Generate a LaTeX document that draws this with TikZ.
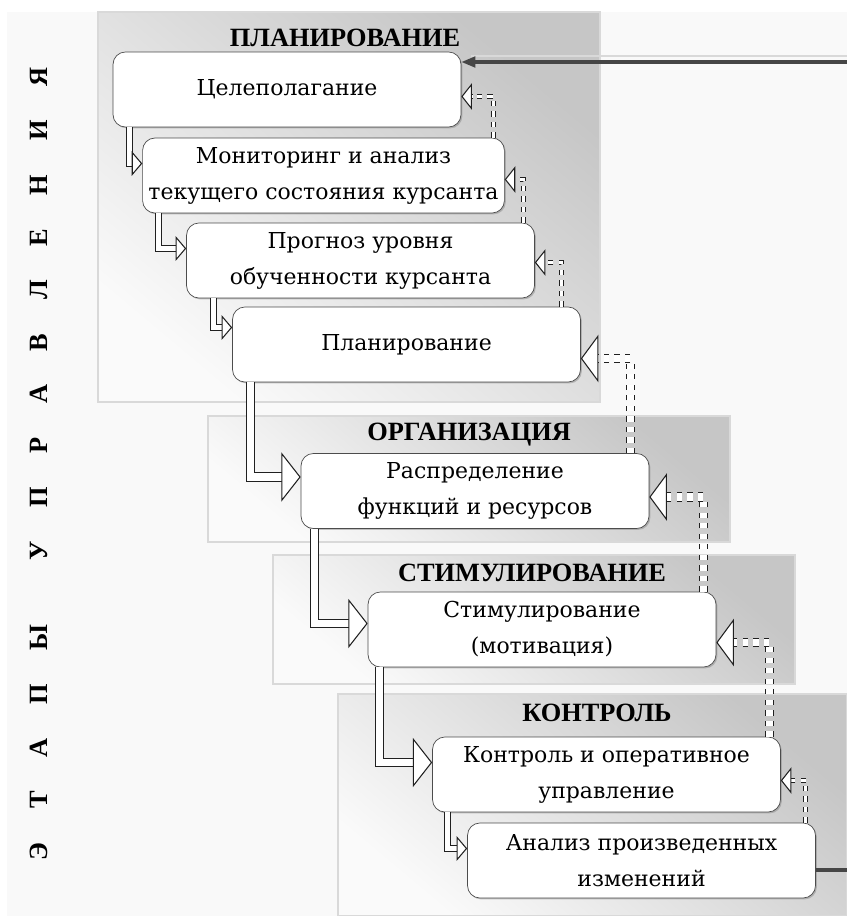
\documentclass[tikz,border=0pt]{standalone}
\usepackage{fontspec}
\setmainfont{Liberation Serif}
\newfontfamily\boxfont{DejaVu Serif}
\usetikzlibrary{positioning,arrows.meta,shadows}

\begin{document}
\begin{tikzpicture}[x=0.02cm,y=-0.02cm,
  panel/.style={draw=gray!30, line width=1.2pt, top color=gray!45, bottom color=gray!4, shading angle=-40},
  stage/.style={draw=gray!60!black, fill=white, rounded corners=7pt,
    minimum width=6.96cm, minimum height=1.5cm, align=center,
    font=\boxfont\fontsize{12.5}{20.5}\selectfont,
    drop shadow={shadow xshift=.8pt, shadow yshift=-.8pt, opacity=.45}},
  title/.style={font=\bfseries\fontsize{15}{17}\selectfont},
  fwd/.style={draw=gray!25!black, line width=.6pt, double=white, double distance=2.8pt,
    -{Triangle[open,fill=white,length=6pt,width=14pt]}},
  bigfwd/.style={fwd, double distance=4pt, -{Triangle[open,fill=white,length=11pt,width=28pt]}},
  back/.style={fwd, dashed, double distance=1.6pt, -{Triangle[open,fill=white,length=6pt,width=15pt]}},
  bigback/.style={bigfwd, dashed, double distance=4pt, -{Triangle[open,fill=white,length=10pt,width=27pt]}},
  feedline/.style={draw=gray!55!black, line width=1.8pt}]

\useasboundingbox (0,0) rectangle (847,916);
\fill[gray!5] (7,12) rectangle (847,916);

% stage panels
\draw[panel] (98,12) rectangle (600,402);
\draw[panel] (208,416) rectangle (730,542);
\draw[panel] (273,555) rectangle (795,684);
\draw[panel] (338,694) rectangle (847,916);

\node[title] (tplan) at (345,38) {ПЛАНИРОВАНИЕ};
\node[title] (torg) at (469,435) {ОРГАНИЗАЦИЯ};
\node[title] (tstim) at (532,573) {СТИМУЛИРОВАНИЕ};
\node[title] (tctrl) at (597,713) {КОНТРОЛЬ};

\node[rotate=90, font=\bfseries\fontsize{15}{17}\selectfont] (stages) at (39,464)
  {\makebox[15.86cm]{Э\hfill Т\hfill А\hfill П\hfill Ы\hfill\hspace{.6cm}У\hfill П\hfill Р\hfill
   А\hfill В\hfill Л\hfill Е\hfill Н\hfill И\hfill Я}};

% boxes
\node[stage] (goal) at (287,89.5) {Целеполагание};
\node[stage] (monitor) at (323.5,175.5) {Мониторинг и анализ\\текущего состояния курсанта};
\node[stage] (forecast) at (360.5,260.5) {Прогноз уровня\\обученности курсанта};
\node[stage] (plan) at (406.5,344.5) {Планирование};
\node[stage] (distrib) at (475,491) {Распределение\\функций и ресурсов};
\node[stage] (motiv) at (542,629.5) {Стимулирование\\(мотивация)};
\node[stage] (control) at (606.5,774.5) {Контроль и оперативное\\управление};
\node[stage] (review) at (641.5,860.5) {Анализ произведенных\\изменений};

% forward
\draw[fwd] ([shift={(17,0)}]goal.south west) |- ([shift={(0,-12)}]monitor.west);
\draw[fwd] ([shift={(16,0)}]monitor.south west) |- ([shift={(0,-12)}]forecast.west);
\draw[fwd] ([shift={(27,0)}]forecast.south west) |- ([shift={(0,-17)}]plan.west);
\draw[bigfwd] ([shift={(18,0)}]plan.south west) |- ([shift={(0,-14)}]distrib.west);
\draw[bigfwd] ([shift={(14,0)}]distrib.south west) |- ([shift={(0,-6)}]motiv.west);
\draw[bigfwd] ([shift={(12,0)}]motiv.south west) |- ([shift={(0,-12)}]control.west);
\draw[fwd] ([shift={(15,0)}]control.south west) |- ([shift={(0,-12)}]review.west);

% feedback
\draw[back] ([shift={(-11,0)}]monitor.north east) |- ([shift={(0,7)}]goal.east);
\draw[back] ([shift={(-11,0)}]forecast.north east) |- ([shift={(0,4)}]monitor.east);
\draw[back] ([shift={(-19,0)}]plan.north east) |- ([shift={(0,2)}]forecast.east);
\draw[bigback] ([shift={(-19,0)}]distrib.north east) |- ([shift={(0,14)}]plan.east);
\draw[bigback] ([shift={(-13,0)}]motiv.north east) |- ([shift={(0,6)}]distrib.east);
\draw[bigback] ([shift={(-11,0)}]control.north east) |- ([shift={(0,13)}]motiv.east);
\draw[back] ([shift={(-10,0)}]review.north east) |- ([shift={(0,6)}]control.east);

\coordinate (in) at (847,62);
\coordinate (inshade) at (847,56);
\coordinate (out) at (847,870);
\draw[gray!30, line width=1.2pt] (inshade) -- ([shift={(10,0)}]inshade -| goal.east);
\draw[feedline, -{Triangle[length=8pt,width=6pt]}] (in) -- (in -| goal.east);
\draw[feedline] (out -| review.east) -- (out);

\end{tikzpicture}
\end{document}
